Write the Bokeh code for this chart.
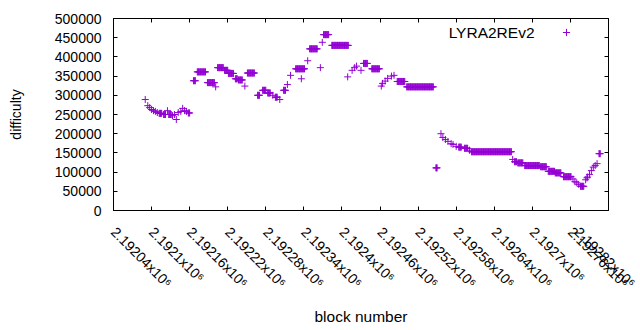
import math
import numpy as np
from bokeh.plotting import figure
from bokeh.models import (ColumnDataSource, FixedTicker, LinearAxis, Range1d, Label,
                          Legend, LegendItem, CustomJSTickFormatter)
from bokeh.core.properties import value
from bokeh.embed import file_html
from bokeh.resources import INLINE

# Difficulty readings, run-length encoded: block range [first, last] with one difficulty
run_first = [2192090, 2192094, 2192097, 2192100, 2192103, 2192106, 2192109, 2192112, 2192119, 2192125,
             2192127, 2192133, 2192136, 2192139, 2192142, 2192146, 2192149, 2192152, 2192155, 2192158,
             2192166, 2192172, 2192188, 2192201, 2192204, 2192215, 2192221, 2192232, 2192237, 2192247,
             2192251, 2192267, 2192275, 2192283, 2192291, 2192295, 2192302, 2192308, 2192314, 2192319,
             2192327, 2192336, 2192346, 2192349, 2192366, 2192369, 2192371, 2192384, 2192409, 2192416,
             2192420, 2192423, 2192430, 2192434, 2192447, 2192462, 2192464, 2192468, 2192472, 2192478,
             2192482, 2192487, 2192502, 2192548, 2192556, 2192559, 2192563, 2192567, 2192572, 2192575,
             2192580, 2192584, 2192593, 2192601, 2192604, 2192669, 2192672, 2192677, 2192688, 2192713,
             2192725, 2192736, 2192749, 2192764, 2192767, 2192770, 2192773, 2192776, 2192784, 2192786,
             2192787, 2192790, 2192793, 2192796, 2192799, 2192802, 2192805]
run_last = [2192090, 2192094, 2192097, 2192100, 2192103, 2192106, 2192109, 2192116, 2192122, 2192125,
            2192131, 2192133, 2192136, 2192139, 2192142, 2192146, 2192149, 2192152, 2192155, 2192160,
            2192169, 2192185, 2192199, 2192201, 2192213, 2192220, 2192229, 2192235, 2192243, 2192247,
            2192262, 2192270, 2192280, 2192287, 2192291, 2192298, 2192302, 2192311, 2192314, 2192319,
            2192341, 2192336, 2192346, 2192361, 2192366, 2192369, 2192379, 2192410, 2192409, 2192416,
            2192420, 2192423, 2192430, 2192440, 2192459, 2192462, 2192464, 2192468, 2192472, 2192478,
            2192482, 2192499, 2192544, 2192550, 2192556, 2192559, 2192563, 2192567, 2192572, 2192575,
            2192580, 2192588, 2192598, 2192601, 2192667, 2192669, 2192675, 2192685, 2192711, 2192722,
            2192735, 2192745, 2192761, 2192764, 2192767, 2192770, 2192773, 2192781, 2192784, 2192786,
            2192787, 2192790, 2192793, 2192796, 2192799, 2192802, 2192807]
run_difficulty = [289000, 273000, 268000, 263000, 260000, 258000, 255000, 253000, 250000, 260000,
                  250000, 247000, 250000, 237000, 255000, 258000, 266000, 260000, 258000, 254000,
                  338000, 361000, 333000, 322000, 372000, 365000, 357000, 343000, 340000, 324000,
                  358000, 300000, 313000, 306000, 300000, 295000, 289000, 313000, 328000, 352000,
                  369000, 343000, 390000, 421000, 372000, 438000, 458000, 430000, 348000, 365000,
                  372000, 376000, 365000, 383000, 369000, 324000, 331000, 337000, 344000, 350000,
                  352000, 336000, 322000, 111000, 200000, 190000, 185000, 180000, 174000, 172000,
                  167000, 165000, 162000, 157000, 153000, 133000, 127000, 124000, 117000, 114000,
                  102000, 98000, 88000, 82000, 75000, 72000, 68000, 63000, 80000, 85000,
                  87000, 94000, 104000, 113000, 117000, 122000, 148000]

x_ticks = [2192040, 2192100, 2192160, 2192220, 2192280, 2192340, 2192400,
           2192460, 2192520, 2192580, 2192640, 2192700, 2192760, 2192820]
x_tick_labels = ["2.19204x10\u2076", "2.1921x10\u2076", "2.19216x10\u2076", "2.19222x10\u2076",
                 "2.19228x10\u2076", "2.19234x10\u2076", "2.1924x10\u2076", "2.19246x10\u2076",
                 "2.19252x10\u2076", "2.19258x10\u2076", "2.19264x10\u2076", "2.1927x10\u2076",
                 "2.19276x10\u2076", "2.19282x10\u2076"]
y_ticks = [0, 50000, 100000, 150000, 200000, 250000, 300000, 350000, 400000, 450000, 500000]
y_tick_labels = ["0", "50000", "100000", "150000", "200000", "250000", "300000",
                 "350000", "400000", "450000", "500000"]
series_name = "LYRA2REv2"

blocks = np.concatenate([np.arange(a, b + 1) for a, b in zip(run_first, run_last)])
diffs = np.concatenate([np.full(b - a + 1, v) for a, b, v in zip(run_first, run_last, run_difficulty)])
src = ColumnDataSource(dict(block=blocks, difficulty=diffs))

FONT = "Liberation Sans"
FS = "14px"
FS_BIG = "15.5px"
COLOR = "#9400d3"

W, H = 638, 329
LEFT, TOP, FW, FH = 113, 18, 495, 192
p = figure(width=W, height=H, output_backend="svg", toolbar_location=None,
           x_range=Range1d(x_ticks[0], x_ticks[-1]), y_range=Range1d(y_ticks[0], y_ticks[-1]),
           min_border_left=LEFT, min_border_right=W - LEFT - FW, min_border_top=TOP,
           min_border_bottom=H - TOP - FH)
p.grid.visible = False
p.outline_line_color = "black"
p.outline_line_width = 1
p.background_fill_color = "white"
p.border_fill_color = "white"

blank = CustomJSTickFormatter(code="return ''")

xa = p.xaxis[0]
xa.ticker = FixedTicker(ticks=x_ticks)
xa.major_label_overrides = {t: l for t, l in zip(x_ticks, x_tick_labels)}
xa.major_label_orientation = -math.pi / 4
xa.axis_label = "block number"
ya = p.yaxis[0]
ya.ticker = FixedTicker(ticks=y_ticks)
ya.major_label_overrides = {t: l for t, l in zip(y_ticks, y_tick_labels)}
ya.axis_label = "difficulty"

for ax in (xa, ya):
    ax.major_tick_in = 4
    ax.major_tick_out = 0
    ax.minor_tick_line_color = None
    ax.axis_line_color = "black"
    ax.major_tick_line_color = "black"
    ax.major_label_text_font = FONT
    ax.major_label_text_font_size = FS
    ax.major_label_text_color = "black"
    ax.axis_label_text_font = FONT
    ax.axis_label_text_font_size = FS
    ax.axis_label_text_font_style = "normal"
    ax.axis_label_text_color = "black"
xa.axis_label_text_font_size = FS_BIG
xa.major_label_standoff = 19
xa.axis_label_standoff = 8
ya.major_label_standoff = 12
ya.axis_label_standoff = 28

top = LinearAxis(ticker=FixedTicker(ticks=x_ticks), formatter=blank, major_tick_in=4, major_tick_out=0,
                 minor_tick_line_color=None, axis_line_color=None, major_label_standoff=0)
right = LinearAxis(ticker=FixedTicker(ticks=y_ticks), formatter=blank, major_tick_in=4, major_tick_out=0,
                   minor_tick_line_color=None, axis_line_color=None, major_label_standoff=0)
p.add_layout(top, "above")
p.add_layout(right, "right")

r = p.scatter(x="block", y="difficulty", source=src, marker="cross", size=7,
              line_color=COLOR, line_width=1)

legend = Legend(items=[LegendItem(label=value(""), renderers=[r])], location=(444, 169),
                glyph_width=18, glyph_height=18, padding=0, margin=0, spacing=0,
                label_standoff=0, label_width=0, label_height=18,
                border_line_color=None, background_fill_alpha=0)
p.add_layout(legend)
p.add_layout(Label(x=421, y=178.3, x_units="screen", y_units="screen", text=series_name,
                   text_align="right", text_baseline="middle", text_font=FONT,
                   text_font_size=FS_BIG, text_color="black"))

open("out.html", "w").write(file_html(p, INLINE))
